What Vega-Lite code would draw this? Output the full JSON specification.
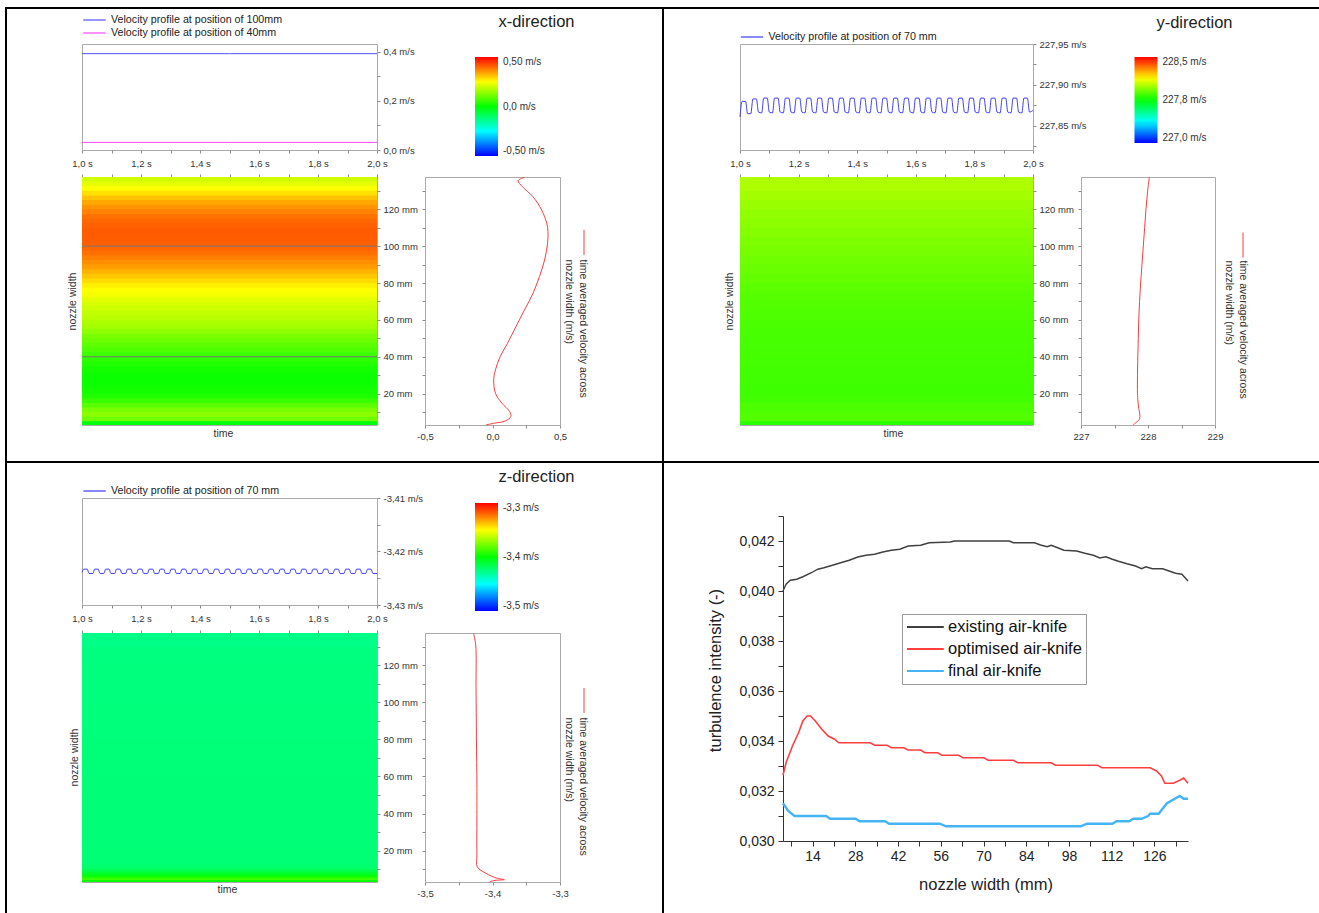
{
"$schema": "https://vega.github.io/schema/vega-lite/v6.json",
"padding": 0,
"background": "white",
"config": {
  "view": {"stroke": null},
  "font": "Liberation Sans",
  "axis": {"grid": false, "domain": false, "tickColor": "#8c8c8c", "tickSize": 3, "tickWidth": 1, "labelFont": "Liberation Sans", "labelFontSize": 9.5, "labelColor": "#333333", "labelFlush": false, "labelOverlap": false, "labelPadding": 3, "titleFont": "Liberation Sans", "titleFontSize": 10.5, "titleFontWeight": "normal", "titleColor": "#333333"},
  "legend": {"labelFont": "Liberation Sans", "titleFont": "Liberation Sans", "padding": 0, "labelOverlap": false, "labelColor": "#333333", "labelLimit": 400}
},
"datasets": {
  "line_x": [
    {"t": 1.0, "v": 0.393, "s": "Velocity profile at position of 100mm"},
    {"t": 1.5, "v": 0.393, "s": "Velocity profile at position of 100mm"},
    {"t": 2.0, "v": 0.393, "s": "Velocity profile at position of 100mm"},
    {"t": 1.0, "v": 0.031, "s": "Velocity profile at position of 40mm"},
    {"t": 1.5, "v": 0.031, "s": "Velocity profile at position of 40mm"},
    {"t": 2.0, "v": 0.031, "s": "Velocity profile at position of 40mm"}
  ],
  "line_y": [
    {"t":1.000,"v":227.861},{"t":1.007,"v":227.880},{"t":1.019,"v":227.880},{"t":1.026,"v":227.865},
    {"t":1.037,"v":227.865},{"t":1.044,"v":227.883},{"t":1.056,"v":227.883},{"t":1.063,"v":227.867},
    {"t":1.074,"v":227.866},{"t":1.081,"v":227.884},{"t":1.093,"v":227.884},{"t":1.100,"v":227.867},
    {"t":1.111,"v":227.866},{"t":1.118,"v":227.884},{"t":1.130,"v":227.884},{"t":1.137,"v":227.867},
    {"t":1.148,"v":227.866},{"t":1.155,"v":227.884},{"t":1.167,"v":227.884},{"t":1.174,"v":227.867},
    {"t":1.185,"v":227.866},{"t":1.192,"v":227.884},{"t":1.204,"v":227.884},{"t":1.211,"v":227.867},
    {"t":1.222,"v":227.866},{"t":1.229,"v":227.884},{"t":1.241,"v":227.884},{"t":1.248,"v":227.867},
    {"t":1.259,"v":227.866},{"t":1.266,"v":227.884},{"t":1.278,"v":227.884},{"t":1.285,"v":227.867},
    {"t":1.296,"v":227.866},{"t":1.303,"v":227.884},{"t":1.315,"v":227.884},{"t":1.322,"v":227.867},
    {"t":1.333,"v":227.866},{"t":1.340,"v":227.884},{"t":1.352,"v":227.884},{"t":1.359,"v":227.867},
    {"t":1.370,"v":227.866},{"t":1.377,"v":227.884},{"t":1.389,"v":227.884},{"t":1.396,"v":227.867},
    {"t":1.407,"v":227.866},{"t":1.414,"v":227.884},{"t":1.426,"v":227.884},{"t":1.433,"v":227.867},
    {"t":1.444,"v":227.866},{"t":1.451,"v":227.884},{"t":1.463,"v":227.884},{"t":1.470,"v":227.867},
    {"t":1.481,"v":227.866},{"t":1.488,"v":227.884},{"t":1.500,"v":227.884},{"t":1.507,"v":227.867},
    {"t":1.518,"v":227.866},{"t":1.525,"v":227.884},{"t":1.537,"v":227.884},{"t":1.544,"v":227.867},
    {"t":1.555,"v":227.866},{"t":1.562,"v":227.884},{"t":1.574,"v":227.884},{"t":1.581,"v":227.867},
    {"t":1.592,"v":227.866},{"t":1.599,"v":227.884},{"t":1.611,"v":227.884},{"t":1.618,"v":227.867},
    {"t":1.629,"v":227.866},{"t":1.636,"v":227.884},{"t":1.648,"v":227.884},{"t":1.655,"v":227.867},
    {"t":1.666,"v":227.866},{"t":1.673,"v":227.884},{"t":1.685,"v":227.884},{"t":1.692,"v":227.867},
    {"t":1.703,"v":227.866},{"t":1.710,"v":227.884},{"t":1.722,"v":227.884},{"t":1.729,"v":227.867},
    {"t":1.740,"v":227.866},{"t":1.747,"v":227.884},{"t":1.759,"v":227.884},{"t":1.766,"v":227.867},
    {"t":1.777,"v":227.866},{"t":1.784,"v":227.884},{"t":1.796,"v":227.884},{"t":1.803,"v":227.867},
    {"t":1.814,"v":227.866},{"t":1.821,"v":227.884},{"t":1.833,"v":227.884},{"t":1.840,"v":227.867},
    {"t":1.851,"v":227.866},{"t":1.858,"v":227.884},{"t":1.870,"v":227.884},{"t":1.877,"v":227.867},
    {"t":1.888,"v":227.866},{"t":1.895,"v":227.884},{"t":1.907,"v":227.884},{"t":1.914,"v":227.867},
    {"t":1.925,"v":227.866},{"t":1.932,"v":227.884},{"t":1.944,"v":227.884},{"t":1.951,"v":227.867},
    {"t":1.962,"v":227.866},{"t":1.969,"v":227.884},{"t":1.981,"v":227.884},{"t":1.988,"v":227.867},
    {"t":2.000,"v":227.869}
  ],
  "line_z": [
    {"t":1.000,"v":-3.4239},{"t":1.006,"v":-3.4233},{"t":1.018,"v":-3.4233},{"t":1.024,"v":-3.4241},
    {"t":1.037,"v":-3.4241},{"t":1.043,"v":-3.4233},{"t":1.055,"v":-3.4233},{"t":1.061,"v":-3.4241},
    {"t":1.074,"v":-3.4241},{"t":1.080,"v":-3.4233},{"t":1.092,"v":-3.4233},{"t":1.098,"v":-3.4241},
    {"t":1.111,"v":-3.4241},{"t":1.117,"v":-3.4233},{"t":1.129,"v":-3.4233},{"t":1.135,"v":-3.4241},
    {"t":1.148,"v":-3.4241},{"t":1.154,"v":-3.4233},{"t":1.166,"v":-3.4233},{"t":1.172,"v":-3.4241},
    {"t":1.185,"v":-3.4241},{"t":1.191,"v":-3.4233},{"t":1.203,"v":-3.4233},{"t":1.209,"v":-3.4241},
    {"t":1.222,"v":-3.4241},{"t":1.228,"v":-3.4233},{"t":1.240,"v":-3.4233},{"t":1.246,"v":-3.4241},
    {"t":1.259,"v":-3.4241},{"t":1.265,"v":-3.4233},{"t":1.277,"v":-3.4233},{"t":1.283,"v":-3.4241},
    {"t":1.296,"v":-3.4241},{"t":1.302,"v":-3.4233},{"t":1.314,"v":-3.4233},{"t":1.320,"v":-3.4241},
    {"t":1.333,"v":-3.4241},{"t":1.339,"v":-3.4233},{"t":1.351,"v":-3.4233},{"t":1.357,"v":-3.4241},
    {"t":1.370,"v":-3.4241},{"t":1.376,"v":-3.4233},{"t":1.388,"v":-3.4233},{"t":1.394,"v":-3.4241},
    {"t":1.407,"v":-3.4241},{"t":1.413,"v":-3.4233},{"t":1.425,"v":-3.4233},{"t":1.431,"v":-3.4241},
    {"t":1.444,"v":-3.4241},{"t":1.450,"v":-3.4233},{"t":1.462,"v":-3.4233},{"t":1.468,"v":-3.4241},
    {"t":1.481,"v":-3.4241},{"t":1.487,"v":-3.4233},{"t":1.499,"v":-3.4233},{"t":1.505,"v":-3.4241},
    {"t":1.518,"v":-3.4241},{"t":1.524,"v":-3.4233},{"t":1.536,"v":-3.4233},{"t":1.542,"v":-3.4241},
    {"t":1.555,"v":-3.4241},{"t":1.561,"v":-3.4233},{"t":1.573,"v":-3.4233},{"t":1.579,"v":-3.4241},
    {"t":1.592,"v":-3.4241},{"t":1.598,"v":-3.4233},{"t":1.610,"v":-3.4233},{"t":1.616,"v":-3.4241},
    {"t":1.629,"v":-3.4241},{"t":1.635,"v":-3.4233},{"t":1.647,"v":-3.4233},{"t":1.653,"v":-3.4241},
    {"t":1.666,"v":-3.4241},{"t":1.672,"v":-3.4233},{"t":1.684,"v":-3.4233},{"t":1.690,"v":-3.4241},
    {"t":1.703,"v":-3.4241},{"t":1.709,"v":-3.4233},{"t":1.721,"v":-3.4233},{"t":1.727,"v":-3.4241},
    {"t":1.740,"v":-3.4241},{"t":1.746,"v":-3.4233},{"t":1.758,"v":-3.4233},{"t":1.764,"v":-3.4241},
    {"t":1.777,"v":-3.4241},{"t":1.783,"v":-3.4233},{"t":1.795,"v":-3.4233},{"t":1.801,"v":-3.4241},
    {"t":1.814,"v":-3.4241},{"t":1.820,"v":-3.4233},{"t":1.832,"v":-3.4233},{"t":1.838,"v":-3.4241},
    {"t":1.851,"v":-3.4241},{"t":1.857,"v":-3.4233},{"t":1.869,"v":-3.4233},{"t":1.875,"v":-3.4241},
    {"t":1.888,"v":-3.4241},{"t":1.894,"v":-3.4233},{"t":1.906,"v":-3.4233},{"t":1.912,"v":-3.4241},
    {"t":1.925,"v":-3.4241},{"t":1.931,"v":-3.4233},{"t":1.943,"v":-3.4233},{"t":1.949,"v":-3.4241},
    {"t":1.962,"v":-3.4241},{"t":1.968,"v":-3.4233},{"t":1.980,"v":-3.4233},{"t":1.986,"v":-3.4241},
    {"t":2.000,"v":-3.4241}
  ],
  "prof_x": [
    {"w":3.1,"v":-0.047},{"w":4.0,"v":0.016},{"w":5.2,"v":0.095},{"w":7.6,"v":0.136},{"w":10.3,"v":0.127},
    {"w":14.8,"v":0.07},{"w":20.2,"v":0.022},{"w":27.5,"v":0.009},{"w":32.9,"v":0.022},{"w":40.1,"v":0.057},
    {"w":47.3,"v":0.111},{"w":56.4,"v":0.174},{"w":65.4,"v":0.237},{"w":74.4,"v":0.30},{"w":83.5,"v":0.348},
    {"w":92.5,"v":0.386},{"w":101.5,"v":0.408},{"w":107.9,"v":0.411},{"w":112.4,"v":0.402},{"w":119.6,"v":0.364},
    {"w":126.8,"v":0.30},{"w":132.2,"v":0.222},{"w":135.5,"v":0.19},{"w":137.3,"v":0.237}
  ],
  "prof_y": [
    {"w":3.1,"v":227.78},{"w":4.0,"v":227.81},{"w":4.9,"v":227.84},{"w":6.0,"v":227.87},{"w":7.6,"v":227.88},
    {"w":10,"v":227.872},{"w":12,"v":227.862},{"w":16,"v":227.85},{"w":20,"v":227.843},{"w":30,"v":227.843},
    {"w":40,"v":227.848},{"w":50,"v":227.855},{"w":60,"v":227.862},{"w":70,"v":227.874},{"w":80,"v":227.89},
    {"w":90,"v":227.91},{"w":100,"v":227.93},{"w":110,"v":227.95},{"w":120,"v":227.97},{"w":130,"v":227.995},
    {"w":137.3,"v":228.02}
  ],
  "prof_z": [
    {"w":3.1,"v":-3.404},{"w":3.8,"v":-3.398},{"w":4.3,"v":-3.3825},{"w":4.9,"v":-3.392},{"w":6.1,"v":-3.401},
    {"w":7.9,"v":-3.4106},{"w":11.2,"v":-3.4225},{"w":17.8,"v":-3.4231},{"w":53.9,"v":-3.4231},{"w":80.9,"v":-3.4238},
    {"w":107.9,"v":-3.4244},{"w":131.4,"v":-3.425},{"w":137.1,"v":-3.4281}
  ],
  "pos_x": [{"w": 100}, {"w": 40}],
  "heat_x": [
    {"w":3,"w2":5,"v":-0.01},{"w":5,"w2":7.5,"v":0.11},{"w":7.5,"w2":10,"v":0.134},{"w":10,"w2":12.5,"v":0.12},
    {"w":12.5,"w2":15,"v":0.085},{"w":15,"w2":17.5,"v":0.055},{"w":17.5,"w2":20,"v":0.03},{"w":20,"w2":22.5,"v":0.02},
    {"w":22.5,"w2":25,"v":0.014},{"w":25,"w2":27.5,"v":0.01},{"w":27.5,"w2":30,"v":0.01},{"w":30,"w2":32.5,"v":0.015},
    {"w":32.5,"w2":35,"v":0.022},{"w":35,"w2":37.5,"v":0.032},{"w":37.5,"w2":40,"v":0.045},{"w":40,"w2":42.5,"v":0.06},
    {"w":42.5,"w2":45,"v":0.075},{"w":45,"w2":47.5,"v":0.09},{"w":47.5,"w2":50,"v":0.105},{"w":50,"w2":52.5,"v":0.12},
    {"w":52.5,"w2":55,"v":0.14},{"w":55,"w2":57.5,"v":0.16},{"w":57.5,"w2":60,"v":0.17},{"w":60,"w2":62.5,"v":0.18},
    {"w":62.5,"w2":65,"v":0.19},{"w":65,"w2":67.5,"v":0.2},{"w":67.5,"w2":70,"v":0.21},{"w":70,"w2":72.5,"v":0.225},
    {"w":72.5,"w2":75,"v":0.24},{"w":75,"w2":77.5,"v":0.25},{"w":77.5,"w2":80,"v":0.265},{"w":80,"w2":82.5,"v":0.285},
    {"w":82.5,"w2":85,"v":0.305},{"w":85,"w2":87.5,"v":0.325},{"w":87.5,"w2":90,"v":0.345},{"w":90,"w2":92.5,"v":0.36},
    {"w":92.5,"w2":95,"v":0.375},{"w":95,"w2":97.5,"v":0.39},{"w":97.5,"w2":100,"v":0.4},{"w":100,"w2":102.5,"v":0.407},
    {"w":102.5,"w2":105,"v":0.409},{"w":105,"w2":107.5,"v":0.411},{"w":107.5,"w2":110,"v":0.41},{"w":110,"w2":112.5,"v":0.405},
    {"w":112.5,"w2":115,"v":0.398},{"w":115,"w2":117.5,"v":0.388},{"w":117.5,"w2":120,"v":0.372},{"w":120,"w2":122.5,"v":0.355},
    {"w":122.5,"w2":125,"v":0.335},{"w":125,"w2":127.5,"v":0.31},{"w":127.5,"w2":130,"v":0.28},{"w":130,"w2":132.5,"v":0.25},
    {"w":132.5,"w2":135,"v":0.225},{"w":135,"w2":137.5,"v":0.205}
  ],
  "heat_y": [
    {"w":3,"w2":5,"v":227.81},{"w":5,"w2":10,"v":227.87},{"w":10,"w2":15,"v":227.86},{"w":15,"w2":20,"v":227.845},
    {"w":20,"w2":25,"v":227.84},{"w":25,"w2":30,"v":227.842},{"w":30,"w2":35,"v":227.845},{"w":35,"w2":40,"v":227.848},
    {"w":40,"w2":45,"v":227.851},{"w":45,"w2":50,"v":227.853},{"w":50,"w2":55,"v":227.855},{"w":55,"w2":60,"v":227.858},
    {"w":60,"w2":65,"v":227.863},{"w":65,"w2":70,"v":227.87},{"w":70,"w2":75,"v":227.877},{"w":75,"w2":80,"v":227.885},
    {"w":80,"w2":85,"v":227.895},{"w":85,"w2":90,"v":227.905},{"w":90,"w2":95,"v":227.915},{"w":95,"w2":100,"v":227.925},
    {"w":100,"w2":105,"v":227.935},{"w":105,"w2":110,"v":227.945},{"w":110,"w2":115,"v":227.955},{"w":115,"w2":120,"v":227.965},
    {"w":120,"w2":125,"v":227.975},{"w":125,"w2":130,"v":227.99},{"w":130,"w2":137.5,"v":228.005}
  ],
  "heat_z": [
    {"w":3,"w2":4,"v":-3.4},{"w":4,"w2":5,"v":-3.387},{"w":5,"w2":6,"v":-3.394},{"w":6,"w2":7,"v":-3.402},
    {"w":7,"w2":8.5,"v":-3.409},{"w":8.5,"w2":10,"v":-3.416},{"w":10,"w2":12,"v":-3.421},{"w":12,"w2":20,"v":-3.4228},
    {"w":20,"w2":40,"v":-3.4231},{"w":40,"w2":60,"v":-3.4233},{"w":60,"w2":80,"v":-3.4236},{"w":80,"w2":100,"v":-3.424},
    {"w":100,"w2":120,"v":-3.4244},{"w":120,"w2":130,"v":-3.4248},{"w":130,"w2":137.5,"v":-3.4265}
  ],
  "turb": [
    {"w":4.3,"v":0.0400,"s":"existing air-knife"},{"w":5.3,"v":0.04027,"s":"existing air-knife"},{"w":6.7,"v":0.04043,"s":"existing air-knife"},
    {"w":8.8,"v":0.04047,"s":"existing air-knife"},{"w":10.8,"v":0.04057,"s":"existing air-knife"},{"w":13.6,"v":0.04073,"s":"existing air-knife"},
    {"w":15.7,"v":0.04087,"s":"existing air-knife"},{"w":17.7,"v":0.04093,"s":"existing air-knife"},{"w":20.5,"v":0.04103,"s":"existing air-knife"},
    {"w":23.2,"v":0.04113,"s":"existing air-knife"},{"w":26.0,"v":0.04123,"s":"existing air-knife"},{"w":28.8,"v":0.04136,"s":"existing air-knife"},
    {"w":31.5,"v":0.04143,"s":"existing air-knife"},{"w":34.3,"v":0.04147,"s":"existing air-knife"},{"w":37.0,"v":0.04156,"s":"existing air-knife"},
    {"w":39.8,"v":0.04163,"s":"existing air-knife"},{"w":42.6,"v":0.04167,"s":"existing air-knife"},{"w":45.3,"v":0.0418,"s":"existing air-knife"},
    {"w":49.4,"v":0.04183,"s":"existing air-knife"},{"w":52.2,"v":0.04193,"s":"existing air-knife"},{"w":59.1,"v":0.04196,"s":"existing air-knife"},
    {"w":60.5,"v":0.042,"s":"existing air-knife"},{"w":78.4,"v":0.042,"s":"existing air-knife"},{"w":79.8,"v":0.04193,"s":"existing air-knife"},
    {"w":86.7,"v":0.04193,"s":"existing air-knife"},{"w":88.7,"v":0.04184,"s":"existing air-knife"},{"w":90.8,"v":0.04177,"s":"existing air-knife"},
    {"w":92.2,"v":0.04183,"s":"existing air-knife"},{"w":94.3,"v":0.04173,"s":"existing air-knife"},{"w":96.3,"v":0.04163,"s":"existing air-knife"},
    {"w":100.5,"v":0.0416,"s":"existing air-knife"},{"w":103.2,"v":0.04151,"s":"existing air-knife"},{"w":106.0,"v":0.04143,"s":"existing air-knife"},
    {"w":108.1,"v":0.04132,"s":"existing air-knife"},{"w":110.1,"v":0.04137,"s":"existing air-knife"},{"w":112.2,"v":0.04127,"s":"existing air-knife"},
    {"w":114.2,"v":0.04119,"s":"existing air-knife"},{"w":117.0,"v":0.04109,"s":"existing air-knife"},{"w":119.8,"v":0.041,"s":"existing air-knife"},
    {"w":121.8,"v":0.04089,"s":"existing air-knife"},{"w":123.2,"v":0.04097,"s":"existing air-knife"},{"w":125.3,"v":0.04089,"s":"existing air-knife"},
    {"w":128.7,"v":0.04089,"s":"existing air-knife"},{"w":130.8,"v":0.0408,"s":"existing air-knife"},{"w":132.9,"v":0.04071,"s":"existing air-knife"},
    {"w":135.0,"v":0.04067,"s":"existing air-knife"},{"w":137.0,"v":0.0404,"s":"existing air-knife"},
    {"w":4.3,"v":0.03263,"s":"optimised air-knife"},{"w":5.3,"v":0.03313,"s":"optimised air-knife"},{"w":7.4,"v":0.0338,"s":"optimised air-knife"},
    {"w":9.4,"v":0.03433,"s":"optimised air-knife"},{"w":10.8,"v":0.0348,"s":"optimised air-knife"},{"w":12.2,"v":0.035,"s":"optimised air-knife"},
    {"w":13.3,"v":0.035,"s":"optimised air-knife"},{"w":14.9,"v":0.0348,"s":"optimised air-knife"},{"w":17.0,"v":0.03447,"s":"optimised air-knife"},
    {"w":19.1,"v":0.0342,"s":"optimised air-knife"},{"w":21.2,"v":0.03407,"s":"optimised air-knife"},{"w":22.6,"v":0.03393,"s":"optimised air-knife"},
    {"w":32.9,"v":0.03393,"s":"optimised air-knife"},{"w":34.3,"v":0.03383,"s":"optimised air-knife"},{"w":38.4,"v":0.03383,"s":"optimised air-knife"},
    {"w":39.8,"v":0.03373,"s":"optimised air-knife"},{"w":43.9,"v":0.03373,"s":"optimised air-knife"},{"w":45.3,"v":0.03364,"s":"optimised air-knife"},
    {"w":49.4,"v":0.03364,"s":"optimised air-knife"},{"w":50.8,"v":0.03353,"s":"optimised air-knife"},{"w":55.0,"v":0.03353,"s":"optimised air-knife"},
    {"w":56.3,"v":0.03343,"s":"optimised air-knife"},{"w":61.9,"v":0.03343,"s":"optimised air-knife"},{"w":63.2,"v":0.03333,"s":"optimised air-knife"},
    {"w":70.1,"v":0.03333,"s":"optimised air-knife"},{"w":71.5,"v":0.03323,"s":"optimised air-knife"},{"w":79.8,"v":0.03323,"s":"optimised air-knife"},
    {"w":81.2,"v":0.03313,"s":"optimised air-knife"},{"w":92.2,"v":0.03313,"s":"optimised air-knife"},{"w":93.6,"v":0.03303,"s":"optimised air-knife"},
    {"w":107.4,"v":0.03303,"s":"optimised air-knife"},{"w":108.8,"v":0.03293,"s":"optimised air-knife"},{"w":124.6,"v":0.03293,"s":"optimised air-knife"},
    {"w":126.7,"v":0.0328,"s":"optimised air-knife"},{"w":128.3,"v":0.0326,"s":"optimised air-knife"},{"w":129.4,"v":0.03231,"s":"optimised air-knife"},
    {"w":132.2,"v":0.03231,"s":"optimised air-knife"},{"w":134.3,"v":0.03243,"s":"optimised air-knife"},{"w":135.6,"v":0.03252,"s":"optimised air-knife"},
    {"w":137.0,"v":0.03231,"s":"optimised air-knife"},
    {"w":4.3,"v":0.03151,"s":"final air-knife"},{"w":6.0,"v":0.0312,"s":"final air-knife"},{"w":8.1,"v":0.031,"s":"final air-knife"},
    {"w":18.4,"v":0.031,"s":"final air-knife"},{"w":19.8,"v":0.03089,"s":"final air-knife"},{"w":28.1,"v":0.03089,"s":"final air-knife"},
    {"w":29.4,"v":0.03079,"s":"final air-knife"},{"w":37.7,"v":0.03079,"s":"final air-knife"},{"w":39.1,"v":0.03069,"s":"final air-knife"},
    {"w":55.7,"v":0.03069,"s":"final air-knife"},{"w":57.7,"v":0.03059,"s":"final air-knife"},{"w":101.9,"v":0.03059,"s":"final air-knife"},
    {"w":103.9,"v":0.03069,"s":"final air-knife"},{"w":112.2,"v":0.03069,"s":"final air-knife"},{"w":113.6,"v":0.03079,"s":"final air-knife"},
    {"w":117.7,"v":0.03079,"s":"final air-knife"},{"w":119.1,"v":0.03089,"s":"final air-knife"},{"w":121.8,"v":0.03089,"s":"final air-knife"},
    {"w":123.9,"v":0.031,"s":"final air-knife"},{"w":124.6,"v":0.03109,"s":"final air-knife"},{"w":127.4,"v":0.03109,"s":"final air-knife"},
    {"w":130.1,"v":0.03151,"s":"final air-knife"},{"w":134.3,"v":0.0318,"s":"final air-knife"},{"w":135.6,"v":0.03169,"s":"final air-knife"},
    {"w":137.0,"v":0.03169,"s":"final air-knife"}
  ]
},
"columns": 9,
"align": "each",
"bounds": "flush",
"spacing": 0,
"resolve": {"scale": {"x": "independent", "y": "independent", "color": "independent"}, "legend": {"color": "independent"}},
"concat": [
  {"width":5,"height":7,"data":{"values":[]},"mark":"point"},
  {"width":2,"height":7,"data":{"values":[]},"mark":"point"},
  {"width":75,"height":7,"data":{"values":[]},"mark":"point"},
  {"width":343,"height":7,"data":{"values":[]},"mark":"point"},
  {"width":237,"height":7,"data":{"values":[]},"mark":"point"},
  {"width":2,"height":7,"data":{"values":[]},"mark":"point"},
  {"width":76,"height":7,"data":{"values":[]},"mark":"point"},
  {"width":341,"height":7,"data":{"values":[]},"mark":"point"},
  {"width":238,"height":7,"data":{"values":[]},"mark":"point"},

  {"width":5,"height":2,"data":{"values":[]},"mark":"point"},
  {"width":2,"height":2,"data":{"values":[]},"mark":"point","view":{"fill":"#000000","stroke":null}},
  {"width":75,"height":2,"data":{"values":[]},"mark":"point","view":{"fill":"#000000","stroke":null}},
  {"width":343,"height":2,"data":{"values":[]},"mark":"point","view":{"fill":"#000000","stroke":null}},
  {"width":237,"height":2,"data":{"values":[]},"mark":"point","view":{"fill":"#000000","stroke":null}},
  {"width":2,"height":2,"data":{"values":[]},"mark":"point","view":{"fill":"#000000","stroke":null}},
  {"width":76,"height":2,"data":{"values":[]},"mark":"point","view":{"fill":"#000000","stroke":null}},
  {"width":341,"height":2,"data":{"values":[]},"mark":"point","view":{"fill":"#000000","stroke":null}},
  {"width":238,"height":2,"data":{"values":[]},"mark":"point","view":{"fill":"#000000","stroke":null}},

  {"width":5,"height":35,"data":{"values":[]},"mark":"point"},
  {"width":2,"height":35,"data":{"values":[]},"mark":"point","view":{"fill":"#000000","stroke":null}},
  {"width":75,"height":35,"data":{"values":[]},"mark":"point"},
  {"width":343,"height":35,"data":{"values":[]},"mark":"point"},
  {"width":237,"height":35,"data":{"values":[]},"mark":"point"},
  {"width":2,"height":35,"data":{"values":[]},"mark":"point","view":{"fill":"#000000","stroke":null}},
  {"width":76,"height":35,"data":{"values":[]},"mark":"point"},
  {"width":341,"height":35,"data":{"values":[]},"mark":"point"},
  {"width":238,"height":35,"data":{"values":[]},"mark":"point"},

  {"width":5,"height":133,"data":{"values":[]},"mark":"point"},
  {"width":2,"height":133,"data":{"values":[]},"mark":"point","view":{"fill":"#000000","stroke":null}},
  {"width":75,"height":133,"data":{"values":[]},"mark":"point"},
  {
    "width": 295, "height": 106,
    "view": {"stroke": "#aaaaaa"},
    "data": {"name": "line_x"},
    "mark": {"type": "line", "strokeWidth": 1},
    "encoding": {
      "x": {"field": "t", "type": "quantitative", "scale": {"domain": [1, 2], "nice": false, "zero": false},
        "axis": {"orient": "bottom", "values": [1,1.1,1.2,1.3,1.4,1.5,1.6,1.7,1.8,1.9,2], "labelExpr": "round(datum.value*10) % 2 == 0 ? replace(format(datum.value, '.1f'), '.', ',') + ' s' : ''", "title": null, "labelPadding": 5}},
      "y": {"field": "v", "type": "quantitative", "scale": {"domain": [0, 0.4325], "nice": false, "zero": false},
        "axis": {"orient": "right", "values": [0,0.1,0.2,0.3,0.4], "labelExpr": "datum.value == 0.4 ? '0,4 m/s' : datum.value == 0.2 ? '0,2 m/s' : datum.value == 0 ? '0,0 m/s' : ''", "title": "x-direction", "titleAngle": 0, "titleX": 159, "titleY": -18, "titleAlign": "center", "titleBaseline": "alphabetic", "titleFontSize": 16.5, "titleColor": "#222222"}},
      "color": {"field": "s", "type": "nominal", "scale": {"domain": ["Velocity profile at position of 100mm", "Velocity profile at position of 40mm"], "range": ["#5050ff", "#ff46ff"]},
        "legend": {"orient": "none", "legendX": 4.5, "legendY": -32, "title": null, "symbolType": "M-1.6,0H1.6", "symbolSize": 196, "symbolStrokeWidth": 1.2, "labelFontSize": 10.7, "labelOffset": 8.5, "rowPadding": 0, "labelColor": "#222222"}}
    }
  },
  {"width":237,"height":133,"data":{"values":[]},"mark":"point"},
  {"width":2,"height":133,"data":{"values":[]},"mark":"point","view":{"fill":"#000000","stroke":null}},
  {"width":76,"height":133,"data":{"values":[]},"mark":"point"},
  {
    "width": 293, "height": 106,
    "view": {"stroke": "#aaaaaa"},
    "data": {"name": "line_y"},
    "mark": {"type": "line", "strokeWidth": 1, "interpolate": "monotone"},
    "encoding": {
      "x": {"field": "t", "type": "quantitative", "scale": {"domain": [1, 2], "nice": false, "zero": false},
        "axis": {"orient": "bottom", "values": [1,1.1,1.2,1.3,1.4,1.5,1.6,1.7,1.8,1.9,2], "labelExpr": "round(datum.value*10) % 2 == 0 ? replace(format(datum.value, '.1f'), '.', ',') + ' s' : ''", "title": null, "labelPadding": 5}},
      "y": {"field": "v", "type": "quantitative", "scale": {"domain": [227.8207, 227.95], "nice": false, "zero": false},
        "axis": {"orient": "right", "values": [227.825,227.85,227.875,227.9,227.925,227.95], "labelExpr": "datum.value == 227.95 ? '227,95 m/s' : datum.value == 227.9 ? '227,90 m/s' : datum.value == 227.85 ? '227,85 m/s' : ''", "title": "y-direction", "titleAngle": 0, "titleX": 161, "titleY": -17, "titleAlign": "center", "titleBaseline": "alphabetic", "titleFontSize": 16.5, "titleColor": "#222222"}},
      "color": {"datum": "Velocity profile at position of 70 mm", "type": "nominal", "scale": {"range": ["#3b3bff"]},
        "legend": {"orient": "none", "legendX": 4, "legendY": -15, "title": null, "symbolType": "M-1.6,0H1.6", "symbolSize": 196, "symbolStrokeWidth": 1.2, "labelFontSize": 10.7, "labelOffset": 8.5, "rowPadding": 0, "labelColor": "#222222"}}
    }
  },
  {"width":238,"height":133,"data":{"values":[]},"mark":"point"},

  {"width":5,"height":284,"data":{"values":[]},"mark":"point"},
  {"width":2,"height":284,"data":{"values":[]},"mark":"point","view":{"fill":"#000000","stroke":null}},
  {"width":75,"height":284,"data":{"values":[]},"mark":"point"},
  {
    "width": 295, "height": 248,
    "view": {"stroke": "#aaaaaa"},
    "encoding": {
      "y": {"field": "w", "type": "quantitative", "scale": {"domain": [3, 137.5], "nice": false, "zero": false},
        "axis": {"orient": "right", "values": [10,20,30,40,50,60,70,80,90,100,110,120,130], "labelExpr": "datum.value % 20 == 0 ? datum.value + ' mm' : ''", "title": "nozzle width", "titleAngle": 270, "titleX": -305, "titleY": 124, "titleAlign": "center", "titleBaseline": "middle"}}
    },
    "layer": [
      {
        "data": {"name": "heat_x"},
        "mark": {"type": "rect", "y2Offset": -1, "clip": true},
        "encoding": {
          "x": {"datum": 1, "type": "quantitative", "scale": {"domain": [1, 2], "nice": false, "zero": false},
            "axis": {"orient": "top", "values": [1,1.1,1.2,1.3,1.4,1.5,1.6,1.7,1.8,1.9,2], "labels": false, "title": "time", "titleX": 141, "titleY": 256, "titleAlign": "center", "titleBaseline": "middle"}},
          "x2": {"datum": 2},
          "y2": {"field": "w2"},
          "color": {"field": "v", "type": "quantitative", "scale": {"domain": [-0.5, -0.25, 0, 0.25, 0.5], "range": ["#0000ff", "#00ffff", "#00ff00", "#ffff00", "#ff0000"], "interpolate": "rgb"},
            "legend": {"orient": "none", "legendX": 393, "legendY": -120, "direction": "vertical", "title": null, "gradientLength": 99, "gradientThickness": 23, "values": [-0.5, 0, 0.5], "labelExpr": "datum.value == 0.5 ? '0,50 m/s' : datum.value == 0 ? '0,0 m/s' : '-0,50 m/s'", "labelFontSize": 10, "labelOffset": 5, "labelBaseline": "middle", "gradientStrokeWidth": 0}}
        }
      },
      {
        "data": {"name": "pos_x"},
        "mark": {"type": "rule", "color": "#777777", "strokeWidth": 1}
      }
    ]
  },
  {
    "width": 135, "height": 248,
    "view": {"stroke": "#aaaaaa"},
    "data": {"name": "prof_x"},
    "mark": {"type": "line", "strokeWidth": 1, "interpolate": "catmull-rom"},
    "encoding": {
      "x": {"field": "v", "type": "quantitative", "scale": {"domain": [-0.5, 0.5], "nice": false, "zero": false},
        "axis": {"orient": "bottom", "values": [-0.5,-0.25,0,0.25,0.5], "labelExpr": "datum.value == -0.5 ? '-0,5' : datum.value == 0 ? '0,0' : datum.value == 0.5 ? '0,5' : ''", "title": null}},
      "y": {"field": "w", "type": "quantitative", "scale": {"domain": [3, 137.5], "nice": false, "zero": false},
        "axis": {"orient": "left", "values": [10,20,30,40,50,60,70,80,90,100,110,120,130], "labels": false, "title": ["time averaged velocity across", "nozzle width (m/s)"], "titleAngle": 90, "titleX": 157, "titleY": 82, "titleAlign": "left", "titleBaseline": "middle", "titleLineHeight": 14, "titleFontSize": 10.5}},
      "order": {"field": "w", "type": "quantitative"},
      "color": {"datum": "avg", "type": "nominal", "scale": {"range": ["#ff3b3b"]},
        "legend": {"orient": "none", "legendX": 146, "legendY": 52.5, "title": null, "symbolType": "M0,-1V1", "symbolSize": 625, "symbolStrokeWidth": 1, "symbolStrokeColor": "#ff3b3b", "labelExpr": "''"}}
    }
  },
  {"width":2,"height":284,"data":{"values":[]},"mark":"point","view":{"fill":"#000000","stroke":null}},
  {"width":76,"height":284,"data":{"values":[]},"mark":"point"},
  {
    "width": 293, "height": 248,
    "view": {"stroke": "#aaaaaa"},
    "data": {"name": "heat_y"},
    "mark": {"type": "rect", "y2Offset": -1, "clip": true},
    "encoding": {
      "x": {"datum": 1, "type": "quantitative", "scale": {"domain": [1, 2], "nice": false, "zero": false},
        "axis": {"orient": "top", "values": [1,1.1,1.2,1.3,1.4,1.5,1.6,1.7,1.8,1.9,2], "labels": false, "title": "time", "titleX": 153, "titleY": 256, "titleAlign": "center", "titleBaseline": "middle"}},
      "x2": {"datum": 2},
      "y": {"field": "w", "type": "quantitative", "scale": {"domain": [3, 137.5], "nice": false, "zero": false},
        "axis": {"orient": "right", "values": [10,20,30,40,50,60,70,80,90,100,110,120,130], "labelExpr": "datum.value % 20 == 0 ? datum.value + ' mm' : ''", "title": "nozzle width", "titleAngle": 270, "titleX": -304, "titleY": 124, "titleAlign": "center", "titleBaseline": "middle"}},
      "y2": {"field": "w2"},
      "color": {"field": "v", "type": "quantitative", "scale": {"domain": [227, 227.375, 227.75, 228.125, 228.5], "range": ["#0000ff", "#00ffff", "#00ff00", "#ffff00", "#ff0000"], "interpolate": "rgb"},
        "legend": {"orient": "none", "legendX": 394.5, "legendY": -120, "direction": "vertical", "title": null, "gradientLength": 86, "gradientThickness": 23, "values": [227, 227.75, 228.5], "labelExpr": "datum.value == 228.5 ? '228,5 m/s' : datum.value == 227.75 ? '227,8 m/s' : '227,0 m/s'", "labelFontSize": 10, "labelOffset": 5, "labelBaseline": "middle", "gradientStrokeWidth": 0}}
    }
  },
  {
    "width": 134, "height": 248,
    "view": {"stroke": "#aaaaaa"},
    "data": {"name": "prof_y"},
    "mark": {"type": "line", "strokeWidth": 1, "interpolate": "catmull-rom"},
    "encoding": {
      "x": {"field": "v", "type": "quantitative", "scale": {"domain": [227, 229], "nice": false, "zero": false},
        "axis": {"orient": "bottom", "values": [227,227.5,228,228.5,229], "labelExpr": "datum.value == 227 ? '227' : datum.value == 228 ? '228' : datum.value == 229 ? '229' : ''", "title": null}},
      "y": {"field": "w", "type": "quantitative", "scale": {"domain": [3, 137.5], "nice": false, "zero": false},
        "axis": {"orient": "left", "values": [10,20,30,40,50,60,70,80,90,100,110,120,130], "labels": false, "title": ["time averaged velocity across", "nozzle width (m/s)"], "titleAngle": 90, "titleX": 161, "titleY": 83, "titleAlign": "left", "titleBaseline": "middle", "titleLineHeight": 14, "titleFontSize": 10.5}},
      "order": {"field": "w", "type": "quantitative"},
      "color": {"datum": "avg", "type": "nominal", "scale": {"range": ["#ff3b3b"]},
        "legend": {"orient": "none", "legendX": 149, "legendY": 55, "title": null, "symbolType": "M0,-1V1", "symbolSize": 625, "symbolStrokeWidth": 1, "symbolStrokeColor": "#ff3b3b", "labelExpr": "''"}}
    }
  },

  {"width":5,"height":2,"data":{"values":[]},"mark":"point"},
  {"width":2,"height":2,"data":{"values":[]},"mark":"point","view":{"fill":"#000000","stroke":null}},
  {"width":75,"height":2,"data":{"values":[]},"mark":"point","view":{"fill":"#000000","stroke":null}},
  {"width":343,"height":2,"data":{"values":[]},"mark":"point","view":{"fill":"#000000","stroke":null}},
  {"width":237,"height":2,"data":{"values":[]},"mark":"point","view":{"fill":"#000000","stroke":null}},
  {"width":2,"height":2,"data":{"values":[]},"mark":"point","view":{"fill":"#000000","stroke":null}},
  {"width":76,"height":2,"data":{"values":[]},"mark":"point","view":{"fill":"#000000","stroke":null}},
  {"width":341,"height":2,"data":{"values":[]},"mark":"point","view":{"fill":"#000000","stroke":null}},
  {"width":238,"height":2,"data":{"values":[]},"mark":"point","view":{"fill":"#000000","stroke":null}},

  {"width":5,"height":35,"data":{"values":[]},"mark":"point"},
  {"width":2,"height":35,"data":{"values":[]},"mark":"point","view":{"fill":"#000000","stroke":null}},
  {"width":75,"height":35,"data":{"values":[]},"mark":"point"},
  {"width":343,"height":35,"data":{"values":[]},"mark":"point"},
  {"width":237,"height":35,"data":{"values":[]},"mark":"point"},
  {"width":2,"height":35,"data":{"values":[]},"mark":"point","view":{"fill":"#000000","stroke":null}},
  {"width":76,"height":35,"data":{"values":[]},"mark":"point"},
  {"width":341,"height":35,"data":{"values":[]},"mark":"point"},
  {"width":238,"height":35,"data":{"values":[]},"mark":"point"},

  {"width":5,"height":135,"data":{"values":[]},"mark":"point"},
  {"width":2,"height":135,"data":{"values":[]},"mark":"point","view":{"fill":"#000000","stroke":null}},
  {"width":75,"height":135,"data":{"values":[]},"mark":"point"},
  {
    "width": 295, "height": 107,
    "view": {"stroke": "#aaaaaa"},
    "data": {"name": "line_z"},
    "mark": {"type": "line", "strokeWidth": 1, "interpolate": "monotone"},
    "encoding": {
      "x": {"field": "t", "type": "quantitative", "scale": {"domain": [1, 2], "nice": false, "zero": false},
        "axis": {"orient": "bottom", "values": [1,1.1,1.2,1.3,1.4,1.5,1.6,1.7,1.8,1.9,2], "labelExpr": "round(datum.value*10) % 2 == 0 ? replace(format(datum.value, '.1f'), '.', ',') + ' s' : ''", "title": null, "labelPadding": 5}},
      "y": {"field": "v", "type": "quantitative", "scale": {"domain": [-3.43, -3.41], "nice": false, "zero": false},
        "axis": {"orient": "right", "values": [-3.43,-3.425,-3.42,-3.415,-3.41], "labelExpr": "datum.value == -3.41 ? '-3,41 m/s' : datum.value == -3.42 ? '-3,42 m/s' : datum.value == -3.43 ? '-3,43 m/s' : ''", "title": "z-direction", "titleAngle": 0, "titleX": 159, "titleY": -17, "titleAlign": "center", "titleBaseline": "alphabetic", "titleFontSize": 16.5, "titleColor": "#222222"}},
      "color": {"datum": "Velocity profile at position of 70 mm", "type": "nominal", "scale": {"range": ["#3b3bff"]},
        "legend": {"orient": "none", "legendX": 4.5, "legendY": -15, "title": null, "symbolType": "M-1.6,0H1.6", "symbolSize": 196, "symbolStrokeWidth": 1.2, "labelFontSize": 10.7, "labelOffset": 8.5, "rowPadding": 0, "labelColor": "#222222"}}
    }
  },
  {"width":237,"height":135,"data":{"values":[]},"mark":"point"},
  {"width":2,"height":135,"data":{"values":[]},"mark":"point","view":{"fill":"#000000","stroke":null}},
  {"width":76,"height":135,"data":{"values":[]},"mark":"point"},
  {
    "width": 341, "height": 135,
    "data": {"name": "turb"},
    "encoding": {
      "x": {"field": "w", "type": "quantitative", "scale": {"domain": [4.3, 137], "range": [43, 448], "nice": false, "zero": false},
        "axis": {"orient": "bottom", "offset": 208, "domain": true, "domainColor": "#333333", "tickColor": "#333333", "tickSize": 5, "values": [7,14,21,28,35,42,49,56,63,70,77,84,91,98,105,112,119,126,133], "labelExpr": "datum.value % 14 == 0 ? '' + datum.value : ''", "labelFontSize": 14, "labelColor": "#222222", "labelPadding": 3, "title": "nozzle width (mm)", "titleFontSize": 16.5, "titleColor": "#222222", "titleY": 43, "titleBaseline": "middle"}},
      "y": {"field": "v", "type": "quantitative", "scale": {"domain": [0.030, 0.043], "range": [343, 18], "nice": false, "zero": false},
        "axis": {"orient": "left", "offset": -43, "domain": true, "domainColor": "#333333", "tickColor": "#333333", "tickSize": 5, "values": [0.030,0.031,0.032,0.033,0.034,0.035,0.036,0.037,0.038,0.039,0.040,0.041,0.042,0.043], "labelExpr": "round(datum.value*1000) % 2 == 0 ? replace(format(datum.value, '.3f'), '.', ',') : ''", "labelFontSize": 14, "labelColor": "#222222", "labelPadding": 4, "title": "turbulence intensity (-)", "titleFontSize": 16.5, "titleColor": "#222222", "titleAngle": 270, "titleX": -68, "titleY": 172, "titleAlign": "center", "titleBaseline": "middle"}},
      "color": {"field": "s", "type": "nominal", "scale": {"domain": ["existing air-knife", "optimised air-knife", "final air-knife"], "range": ["#404040", "#ff3f3f", "#45b4f5"]},
        "legend": {"orient": "none", "legendX": 162, "legendY": 116, "title": null, "symbolType": "M-1,0H3.6", "symbolSize": 256, "symbolStrokeWidth": 1.8, "labelFontSize": 16.5, "labelOffset": 24, "rowPadding": 4, "padding": 4, "strokeColor": "#9a9a9a", "fillColor": "#ffffff", "labelColor": "#111111"}}
    },
    "layer": [
      {"transform": [{"filter": "datum.s == 'existing air-knife'"}], "mark": {"type": "line", "strokeWidth": 1.4}},
      {"transform": [{"filter": "datum.s == 'optimised air-knife'"}], "mark": {"type": "line", "strokeWidth": 1.6}},
      {"transform": [{"filter": "datum.s == 'final air-knife'"}], "mark": {"type": "line", "strokeWidth": 2.4}}
    ]
  },
  {"width":238,"height":135,"data":{"values":[]},"mark":"point"},

  {"width":5,"height":280,"data":{"values":[]},"mark":"point"},
  {"width":2,"height":280,"data":{"values":[]},"mark":"point","view":{"fill":"#000000","stroke":null}},
  {"width":75,"height":280,"data":{"values":[]},"mark":"point"},
  {
    "width": 295, "height": 249,
    "view": {"stroke": "#aaaaaa"},
    "data": {"name": "heat_z"},
    "mark": {"type": "rect", "y2Offset": -1, "clip": true},
    "encoding": {
      "x": {"datum": 1, "type": "quantitative", "scale": {"domain": [1, 2], "nice": false, "zero": false},
        "axis": {"orient": "top", "values": [1,1.1,1.2,1.3,1.4,1.5,1.6,1.7,1.8,1.9,2], "labels": false, "title": "time", "titleX": 145, "titleY": 256, "titleAlign": "center", "titleBaseline": "middle"}},
      "x2": {"datum": 2},
      "y": {"field": "w", "type": "quantitative", "scale": {"domain": [3, 137.5], "nice": false, "zero": false},
        "axis": {"orient": "right", "values": [10,20,30,40,50,60,70,80,90,100,110,120,130], "labelExpr": "datum.value % 20 == 0 ? datum.value + ' mm' : ''", "title": "nozzle width", "titleAngle": 270, "titleX": -303, "titleY": 124, "titleAlign": "center", "titleBaseline": "middle"}},
      "y2": {"field": "w2"},
      "color": {"field": "v", "type": "quantitative", "scale": {"domain": [-3.5, -3.45, -3.4, -3.35, -3.3], "range": ["#0000ff", "#00ffff", "#00ff00", "#ffff00", "#ff0000"], "interpolate": "rgb"},
        "legend": {"orient": "none", "legendX": 393, "legendY": -130, "direction": "vertical", "title": null, "gradientLength": 108, "gradientThickness": 23, "values": [-3.5, -3.4, -3.3], "labelExpr": "datum.value == -3.3 ? '-3,3 m/s' : datum.value == -3.4 ? '-3,4 m/s' : '-3,5 m/s'", "labelFontSize": 10, "labelOffset": 5, "labelBaseline": "middle", "gradientStrokeWidth": 0}}
    }
  },
  {
    "width": 135, "height": 249,
    "view": {"stroke": "#aaaaaa"},
    "data": {"name": "prof_z"},
    "mark": {"type": "line", "strokeWidth": 1, "interpolate": "catmull-rom"},
    "encoding": {
      "x": {"field": "v", "type": "quantitative", "scale": {"domain": [-3.5, -3.3], "nice": false, "zero": false},
        "axis": {"orient": "bottom", "values": [-3.5,-3.45,-3.4,-3.35,-3.3], "labelExpr": "datum.value == -3.5 ? '-3,5' : datum.value == -3.4 ? '-3,4' : datum.value == -3.3 ? '-3,3' : ''", "title": null}},
      "y": {"field": "w", "type": "quantitative", "scale": {"domain": [3, 137.5], "nice": false, "zero": false},
        "axis": {"orient": "left", "values": [10,20,30,40,50,60,70,80,90,100,110,120,130], "labels": false, "title": ["time averaged velocity across", "nozzle width (m/s)"], "titleAngle": 90, "titleX": 157.5, "titleY": 84, "titleAlign": "left", "titleBaseline": "middle", "titleLineHeight": 14, "titleFontSize": 10.5}},
      "order": {"field": "w", "type": "quantitative"},
      "color": {"datum": "avg", "type": "nominal", "scale": {"range": ["#ff3b3b"]},
        "legend": {"orient": "none", "legendX": 146, "legendY": 54.5, "title": null, "symbolType": "M0,-1V1", "symbolSize": 625, "symbolStrokeWidth": 1, "symbolStrokeColor": "#ff3b3b", "labelExpr": "''"}}
    }
  },
  {"width":2,"height":280,"data":{"values":[]},"mark":"point","view":{"fill":"#000000","stroke":null}},
  {"width":76,"height":280,"data":{"values":[]},"mark":"point"},
  {"width":341,"height":280,"data":{"values":[]},"mark":"point"},
  {"width":238,"height":280,"data":{"values":[]},"mark":"point"}
]
}
